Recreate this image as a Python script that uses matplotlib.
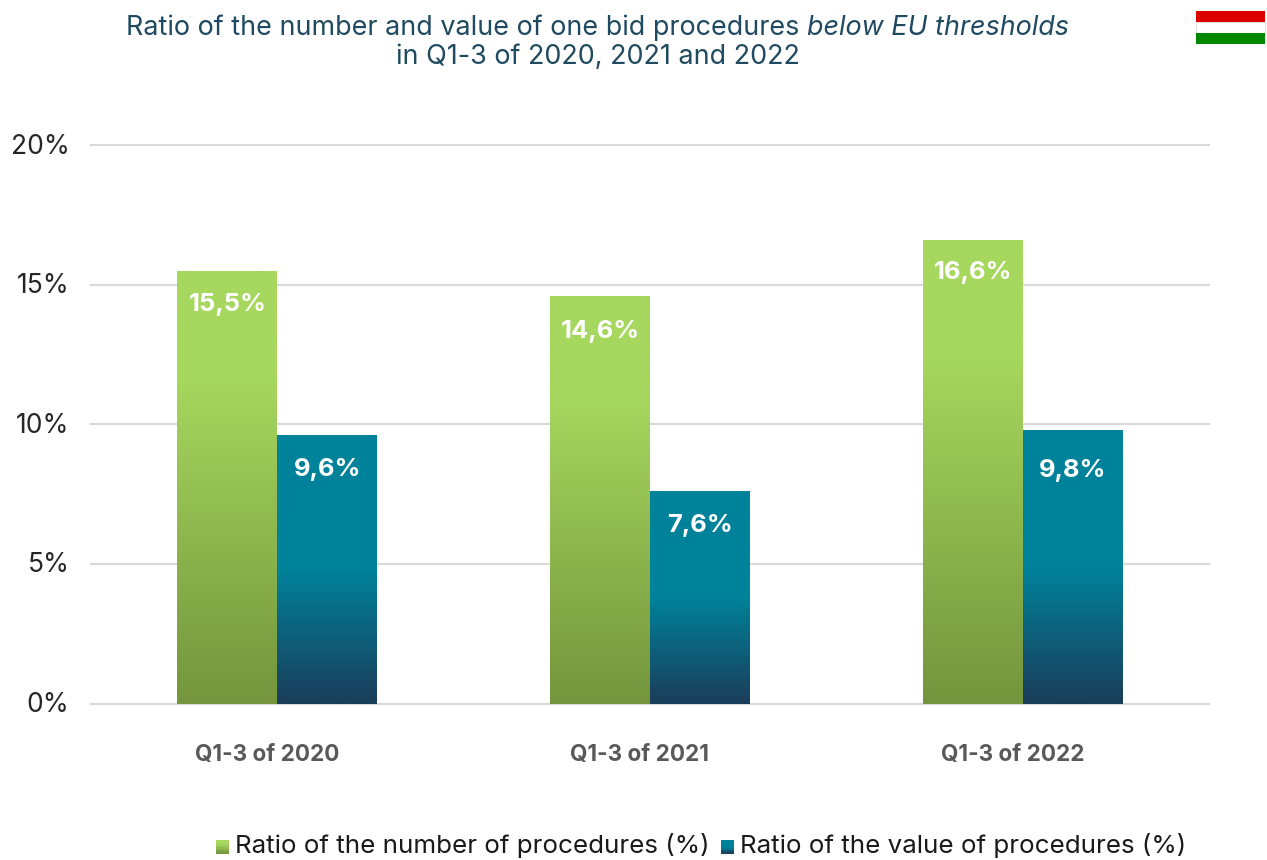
import matplotlib
matplotlib.use('Agg')
import matplotlib.pyplot as plt
import numpy as np
from matplotlib.colors import LinearSegmentedColormap
from matplotlib.legend_handler import HandlerBase
from matplotlib.patches import Patch, Rectangle
from matplotlib.transforms import ScaledTranslation

plt.rcParams['font.family'] = ['Inter', 'DejaVu Sans']

# Dati
periodi = ['Q1-3 of 2020', 'Q1-3 of 2021', 'Q1-3 of 2022']
ratio_numero = [15.5, 14.6, 16.6]
ratio_valore = [9.6, 7.6, 9.8]
etichette_numero = ['15,5%', '14,6%', '16,6%']
etichette_valore = ['9,6%', '7,6%', '9,8%']
nomi_serie = ['Ratio of the number of procedures (%)', 'Ratio of the value of procedures (%)']
tick_y = [0, 5, 10, 15, 20]

W, H = 1267, 860
verde = LinearSegmentedColormap.from_list('verde', [(0, '#A6D75E'), (0.25, '#A6D75E'), (1, '#74953D')])
blu = LinearSegmentedColormap.from_list('blu', [(0, '#00829A'), (0.5, '#00829A'), (1, '#1B3D5A')])
gradiente = np.linspace(0, 1, 256).reshape(-1, 1)


class HandlerGradiente(HandlerBase):
    # quadratino della legenda fatto a strisce per avere il gradiente
    def __init__(self, cmap):
        super().__init__()
        self.cmap = cmap

    def create_artists(self, legend, orig_handle, xdescent, ydescent, width, height, fontsize, trans):
        lato = 10
        strisce = []
        for i in range(lato):
            strisce.append(Rectangle((width - lato, -ydescent + lato - i - 1.5), lato, 1.1,
                                     facecolor=self.cmap(i / (lato - 1)), edgecolor='none', transform=trans))
        return strisce


def barre_gradiente(ax, x, valori, larghezza, cmap):
    barre = ax.bar(x, valori, larghezza, color='none', zorder=3)
    for b in barre:
        im = ax.imshow(gradiente, cmap=cmap, aspect='auto', zorder=3,
                       extent=(b.get_x(), b.get_x() + b.get_width(), 0, b.get_height()))
        im.set_clip_path(b)
    return barre


def titolo(fig):
    # prima riga con un pezzo in corsivo
    pezzi = [('Ratio of the number and value of one bid procedures ', 'normal'),
             ('below EU thresholds', 'italic')]
    renderer = fig.canvas.get_renderer()
    testi = [fig.text(0, 1 - 28 / H, t, style=s, fontsize=19.4, color='#1F4A60', va='center')
             for t, s in pezzi]
    larghezze = [t.get_window_extent(renderer).width for t in testi]
    x = 598 - sum(larghezze) / 2
    for t, w in zip(testi, larghezze):
        t.set_x(x / W)
        x += w
    fig.text(598 / W, 1 - 57 / H, 'in Q1-3 of 2020, 2021 and 2022', fontsize=19.4,
             color='#1F4A60', ha='center', va='center')


def main():
    fig = plt.figure(figsize=(W / 100, H / 100), dpi=100)
    ax = fig.add_axes([91 / W, 1 - 703.5 / H, 1118 / W, 558.5 / H])

    x = np.arange(len(periodi))
    larghezza = 100 / 373
    barre_gradiente(ax, x - larghezza / 2, ratio_numero, larghezza, verde)
    barre_gradiente(ax, x + larghezza / 2, ratio_valore, larghezza, blu)

    # distanza delle etichette dalla cima della barra (pixel)
    scarti_numero = [-34, -36, -33]
    scarti_valore = [-34, -34, -41]
    for xi, v, e, s in zip(x - larghezza / 2, ratio_numero, etichette_numero, scarti_numero):
        ax.annotate(e, (xi, v), xytext=(0, s), textcoords='offset pixels', ha='center', va='center',
                    color='white', fontsize=18.4, fontweight='bold', zorder=4)
    for xi, v, e, s in zip(x + larghezza / 2, ratio_valore, etichette_valore, scarti_valore):
        ax.annotate(e, (xi, v), xytext=(0, s), textcoords='offset pixels', ha='center', va='center',
                    color='white', fontsize=18.4, fontweight='bold', zorder=4)

    ax.set_xlim(-0.5, 2.5)
    ax.set_ylim(0, 20)
    ax.set_xticks(x, periodi, fontsize=16.2, fontweight='bold', color='#595959')
    ax.set_yticks(tick_y, [f'{t}%' for t in tick_y], fontsize=19, color='#262626')
    ax.tick_params(axis='x', length=0, pad=29)
    ax.tick_params(axis='y', length=0, pad=15.5)
    # le etichette dell'asse x stanno un po' a sinistra del gruppo
    sposta = ScaledTranslation(-10 / 100, 0, fig.dpi_scale_trans)
    for lab in ax.get_xticklabels():
        lab.set_transform(lab.get_transform() + sposta)
    sposta_y = ScaledTranslation(0, 1.5 / 100, fig.dpi_scale_trans)
    for lab in ax.get_yticklabels():
        lab.set_transform(lab.get_transform() + sposta_y)
    ax.grid(axis='y', color='#D9D9D9', linewidth=1.5, zorder=0, clip_on=False)
    ax.set_axisbelow(True)
    for lato in ax.spines:
        ax.spines[lato].set_visible(False)
    ax.spines['bottom'].set_visible(True)
    ax.spines['bottom'].set_color('#D9D9D9')
    ax.spines['bottom'].set_linewidth(1.5)

    handles = [Patch(label=nomi_serie[0]), Patch(label=nomi_serie[1])]
    h0, h1 = handles
    fig.legend(handles=handles, loc='center', bbox_to_anchor=(700.5 / W, 1 - 846 / H), ncol=2,
               frameon=False, fontsize=18.7, labelcolor='#1A1A1A', handlelength=0.55, handletextpad=0.2,
               columnspacing=0.42, borderpad=0, borderaxespad=0,
               handler_map={h0: HandlerGradiente(verde), h1: HandlerGradiente(blu)})

    # bandiera ungherese
    bandiera = [('#DD0000', 11, 'none'), ('#FFFFFF', 22, '#DADADA'), ('#008800', 33, 'none')]
    for colore, y, bordo in bandiera:
        fig.add_artist(Rectangle((1196 / W, 1 - (y + 11) / H), 69 / W, 11 / H, facecolor=colore,
                                 edgecolor=bordo, linewidth=0.6, transform=fig.transFigure))

    titolo(fig)
    fig.savefig('out.png', dpi=100)
    plt.close(fig)


if __name__ == "__main__":
    main()
